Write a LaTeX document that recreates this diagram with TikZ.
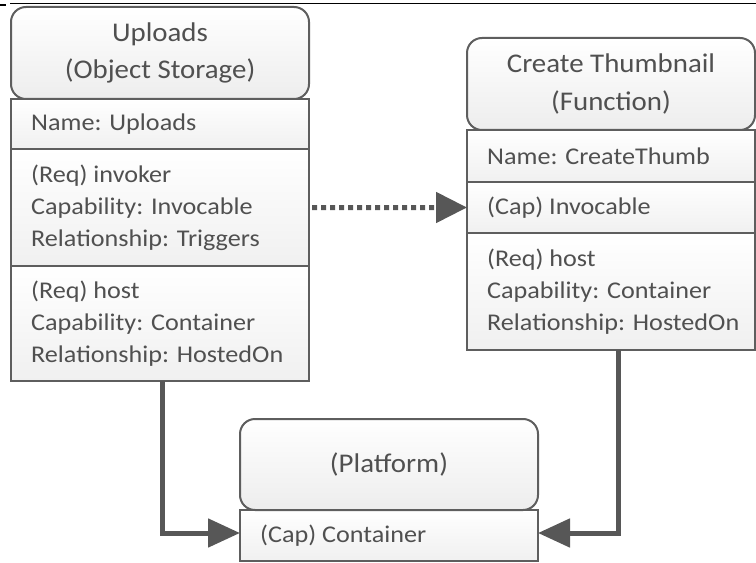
\documentclass[tikz,border=0pt]{standalone}
\usepackage{fontspec}
\usetikzlibrary{arrows.meta}
\newfontfamily\bodyf{Carlito}[FakeStretch=1.09]
\newfontfamily\headf{Carlito}[FakeStretch=1.07]
\definecolor{linec}{HTML}{5E5E5E}
\definecolor{txtc}{HTML}{505050}
\definecolor{fillc}{HTML}{F0F0F0}
\definecolor{headc}{HTML}{EDEDED}
\definecolor{connc}{HTML}{575757}

\begin{document}
\begin{tikzpicture}[x=1bp,y=-1bp,
  boxpart/.style={draw=linec, line width=2bp, top color=white, bottom color=fillc,
                  outer sep=0pt, inner sep=0pt, anchor=north west},
  head/.style={boxpart, bottom color=headc, rounded corners=15bp, align=center,
               font=\headf\fontsize{27bp}{37bp}\selectfont, text=txtc},
  txt/.style={anchor=west, align=left, inner sep=0pt,
              font=\bodyf\fontsize{24bp}{32bp}\selectfont, text=txtc},
  conn/.style={draw=connc, line width=5bp, -{Triangle[length=32bp,width=28bp]}},
  trig/.style={draw=connc, line width=5bp, dash pattern=on 5bp off 4bp,
               -{Triangle[length=31bp,width=30bp]}}
]
\useasboundingbox (0,0) rectangle (756,563);

% page rule along the top edge
\draw[black, line width=1.3bp] (0,5) -- (6,5);
\draw[black, line width=1.3bp] (10,3.5) -- (756,3.5);

% ---- Uploads (Object Storage)
\node[boxpart, minimum width=298bp, minimum height=50bp]  (upName) at (11,99)  {};
\node[boxpart, minimum width=298bp, minimum height=117bp] (upReq)  at (11,149) {};
\node[boxpart, minimum width=298bp, minimum height=115bp] (upHost) at (11,266) {};
\node[head, minimum width=298bp, minimum height=92bp] (upH) at (11,7)
  {Uploads\\(Object Storage)};
\node[txt] (upNameT) at ([xshift=20bp]upName.west) {Name: Uploads};
\node[txt] (upReqT)  at ([xshift=20bp]upReq.west)
  {(Req) invoker\\Capability: Invocable\\Relationship: Triggers};
\node[txt] (upHostT) at ([xshift=20bp]upHost.west)
  {(Req) host\\Capability: Container\\Relationship: HostedOn};

% ---- Create Thumbnail (Function)
\node[boxpart, minimum width=288bp, minimum height=52bp]  (ctName) at (467,130) {};
\node[boxpart, minimum width=288bp, minimum height=51bp]  (ctCap)  at (467,182) {};
\node[boxpart, minimum width=288bp, minimum height=117bp] (ctHost) at (467,233) {};
\node[head, minimum width=288bp, minimum height=92bp] (ctH) at (467,38)
  {Create Thumbnail\\(Function)};
\node[txt] (ctNameT) at ([xshift=20bp]ctName.west) {Name: CreateThumb};
\node[txt] (ctCapT)  at ([xshift=20bp]ctCap.west)  {(Cap) Invocable};
\node[txt] (ctHostT) at ([xshift=20bp]ctHost.west)
  {(Req) host\\Capability: Container\\Relationship: HostedOn};

% ---- (Platform)
\node[boxpart, minimum width=298bp, minimum height=51bp] (plCap) at (240,510) {};
\node[head, minimum width=298bp, minimum height=91bp] (plH) at (240,419) {(Platform)};
\node[txt] (plCapT) at ([xshift=20bp]plCap.west) {(Cap) Container};

% ---- relationships
\draw[trig, shorten <=3bp] (upReq.east) -- (ctCap.west);
\draw[conn] ([xshift=2bp]upHost.south) |- ([yshift=2.5bp]plCap.west);
\draw[conn] ([xshift=7bp]ctHost.south) |- ([yshift=2.5bp]plCap.east);
\end{tikzpicture}
\end{document}
